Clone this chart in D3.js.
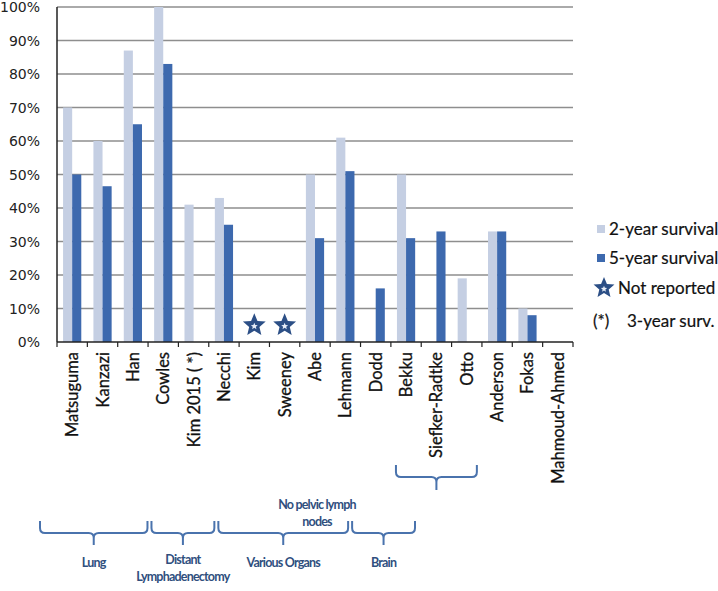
<!DOCTYPE html>
<html lang="en">
<head>
<meta charset="UTF-8">
<title>Survival chart</title>
<script src="https://d3js.org/d3.v7.min.js"></script>
<style>
  body { margin: 0; background: #fff; }
  svg { display: block; }
  .ytick text { font-family: 'DejaVu Sans', sans-serif; font-size: 14px; fill: #222; }
  .xlab { font-family: Lato, sans-serif; font-size: 16.5px; fill: #111; stroke: #111; stroke-width: 0.3px; }
  .legend text { font-family: Lato, sans-serif; font-size: 17px; fill: #111; stroke: #111; stroke-width: 0.2px; }
  .brace { fill: none; stroke: #4a73ad; stroke-width: 2; }
  .glabel { font-family: Lato, sans-serif; font-size: 12.5px; font-weight: bold; fill: #2f4f7e; letter-spacing: -0.8px; }
</style>
</head>
<body>
<svg width="718" height="591"></svg>
<script>
// study names, in order
const studies = ["Matsuguma", "Kanzazi", "Han", "Cowles", "Kim 2015 ( *)", "Necchi", "Kim", "Sweeney",
  "Abe", "Lehmann", "Dodd", "Bekku", "Siefker-Radtke", "Otto", "Anderson", "Fokas", "Mahmoud-Ahmed"];
// survival in %, null = no bar
const surv2 = [70, 60, 87, 100, 41, 43, null, null, 50, 61, null, 50, null, 19, 33, 10, null];
const surv5 = [50, 46.5, 65, 83, null, 35, null, null, 31, 51, 16, 31, 33, null, 33, 8, null];
const notReported = ["Kim", "Sweeney"];
const yTicks = [0, 10, 20, 30, 40, 50, 60, 70, 80, 90, 100];

// groups under the axis: label lines, first index, last index + 1
const groups = [
  { lines: ["Lung"], from: 0, to: 5 },
  { lines: ["Distant", "Lymphadenectomy"], from: 5, to: 8 },
  { lines: ["Various Organs"], from: 8, to: 14 },
  { lines: ["Brain"], from: 14, to: 17 }
];
const subGroup = { lines: ["No pelvic lymph", "nodes"], from: 11, to: 14 };

const legendItems = ["2-year survival", "5-year survival", "Not reported", "3-year surv."];

const light = "#c5cfe3", dark = "#3d69ae", starCol = "#2c4f86";

const svg = d3.select("svg");
const plotL = 57, plotR = 573, plotT = 7, plotB = 342;

const x = d3.scaleBand().domain(studies).range([plotL, plotR]).paddingInner(0.4).paddingOuter(0.2);
const y = d3.scaleLinear().domain([0, 100]).range([plotB, plotT]);

// gridlines
svg.append("g").selectAll("line").data(yTicks.slice(1)).join("line")
  .attr("x1", plotL).attr("x2", plotR)
  .attr("y1", d => y(d)).attr("y2", d => y(d))
  .attr("stroke", "#8e8e8e").attr("stroke-width", 1.5);

// y tick labels
svg.append("g").attr("class", "ytick").selectAll("text").data(yTicks).join("text")
  .attr("x", 40).attr("y", d => y(d) + 5)
  .attr("text-anchor", "end")
  .text(d => d + "%");

// bars
const bw = x.bandwidth() / 2;
svg.append("g").selectAll("rect").data(studies.map((s, i) => ({ s, v: surv2[i] })).filter(d => d.v != null)).join("rect")
  .attr("x", d => x(d.s)).attr("width", bw)
  .attr("y", d => y(d.v)).attr("height", d => y(0) - y(d.v))
  .attr("fill", light);
svg.append("g").selectAll("rect").data(studies.map((s, i) => ({ s, v: surv5[i] })).filter(d => d.v != null)).join("rect")
  .attr("x", d => x(d.s) + bw).attr("width", bw)
  .attr("y", d => y(d.v)).attr("height", d => y(0) - y(d.v))
  .attr("fill", dark);

// star shape
function starPath(r) {
  const pts = [];
  for (let k = 0; k < 10; k++) {
    const a = -Math.PI / 2 + k * Math.PI / 5;
    const rr = k % 2 ? r * 0.45 : r;
    pts.push([rr * Math.cos(a), rr * Math.sin(a)]);
  }
  return "M" + pts.join("L") + "Z";
}
function drawStar(g, cx, cy, r) {
  g.append("path").attr("d", starPath(r)).attr("transform", `translate(${cx},${cy})`)
    .attr("fill", starCol);
  g.append("path").attr("d", starPath(r * 0.3)).attr("transform", `translate(${cx},${cy + 1})`)
    .attr("fill", "#e8eef8");
}
notReported.forEach(s => drawStar(svg, x(s) + x.bandwidth() / 2, y(5), 12));

// axes lines
svg.append("line").attr("x1", plotL).attr("x2", plotL).attr("y1", plotT).attr("y2", plotB)
  .attr("stroke", "#222").attr("stroke-width", 1.5);
svg.append("line").attr("x1", plotL).attr("x2", plotR).attr("y1", plotB).attr("y2", plotB)
  .attr("stroke", "#222").attr("stroke-width", 1.5);
svg.append("g").selectAll("line").data(d3.range(studies.length + 1)).join("line")
  .attr("x1", i => plotL + i * x.step()).attr("x2", i => plotL + i * x.step())
  .attr("y1", plotB).attr("y2", plotB + 5)
  .attr("stroke", "#222").attr("stroke-width", 1.2);

// x labels
svg.append("g").selectAll("text").data(studies).join("text")
  .attr("class", "xlab")
  .attr("transform", d => `translate(${x(d) + x.bandwidth() / 2 + 6},${plotB + 10}) rotate(-90)`)
  .attr("text-anchor", "end")
  .text(d => d);

// legend
const lg = svg.append("g").attr("class", "legend");
lg.append("rect").attr("x", 597).attr("y", 225).attr("width", 8).attr("height", 8).attr("fill", light);
lg.append("text").attr("x", 609).attr("y", 235).text(legendItems[0]);
lg.append("rect").attr("x", 597).attr("y", 254).attr("width", 8).attr("height", 8).attr("fill", dark);
lg.append("text").attr("x", 609).attr("y", 264).text(legendItems[1]);
drawStar(lg, 604, 288, 11);
lg.append("text").attr("x", 618).attr("y", 294).text(legendItems[2]);
lg.append("text").attr("x", 593).attr("y", 327).text("(*)");
lg.append("text").attr("x", 627).attr("y", 327).text(legendItems[3]);

// braces
function brace(x0, x1, yTop, yMid, yTip) {
  const c = (x0 + x1) / 2, r = 5;
  return `M${x0},${yTop} L${x0},${yMid - r} Q${x0},${yMid} ${x0 + r},${yMid} L${c - r},${yMid} Q${c},${yMid} ${c},${yMid + r} L${c},${yTip}` +
    ` M${c},${yMid + r} Q${c},${yMid} ${c + r},${yMid} L${x1 - r},${yMid} Q${x1},${yMid} ${x1},${yMid - r} L${x1},${yTop}`;
}
const gx = d3.scaleLinear().domain([0, studies.length]).range([38, 417]);
const bg = svg.append("g");
groups.forEach(g => {
  const x0 = gx(g.from) + 2, x1 = gx(g.to) - 2;
  bg.append("path").attr("class", "brace").attr("d", brace(x0, x1, 521, 533, 545));
  g.lines.forEach((t, k) => {
    bg.append("text").attr("class", "glabel").attr("x", (x0 + x1) / 2)
      .attr("y", (g.lines.length > 1 ? 564 : 567) + k * 17)
      .attr("text-anchor", "middle").text(t);
  });
});
{
  const x0 = x(studies[subGroup.from]) - 1, x1 = x(studies[subGroup.to - 1]) + x.bandwidth() + 1;
  bg.append("path").attr("class", "brace").attr("d", brace(x0, x1, 465, 477, 490));
  subGroup.lines.forEach((t, k) => {
    bg.append("text").attr("class", "glabel").attr("x", 317).attr("y", 509 + k * 17)
      .attr("text-anchor", "middle").text(t);
  });
}
</script>
</body>
</html>
